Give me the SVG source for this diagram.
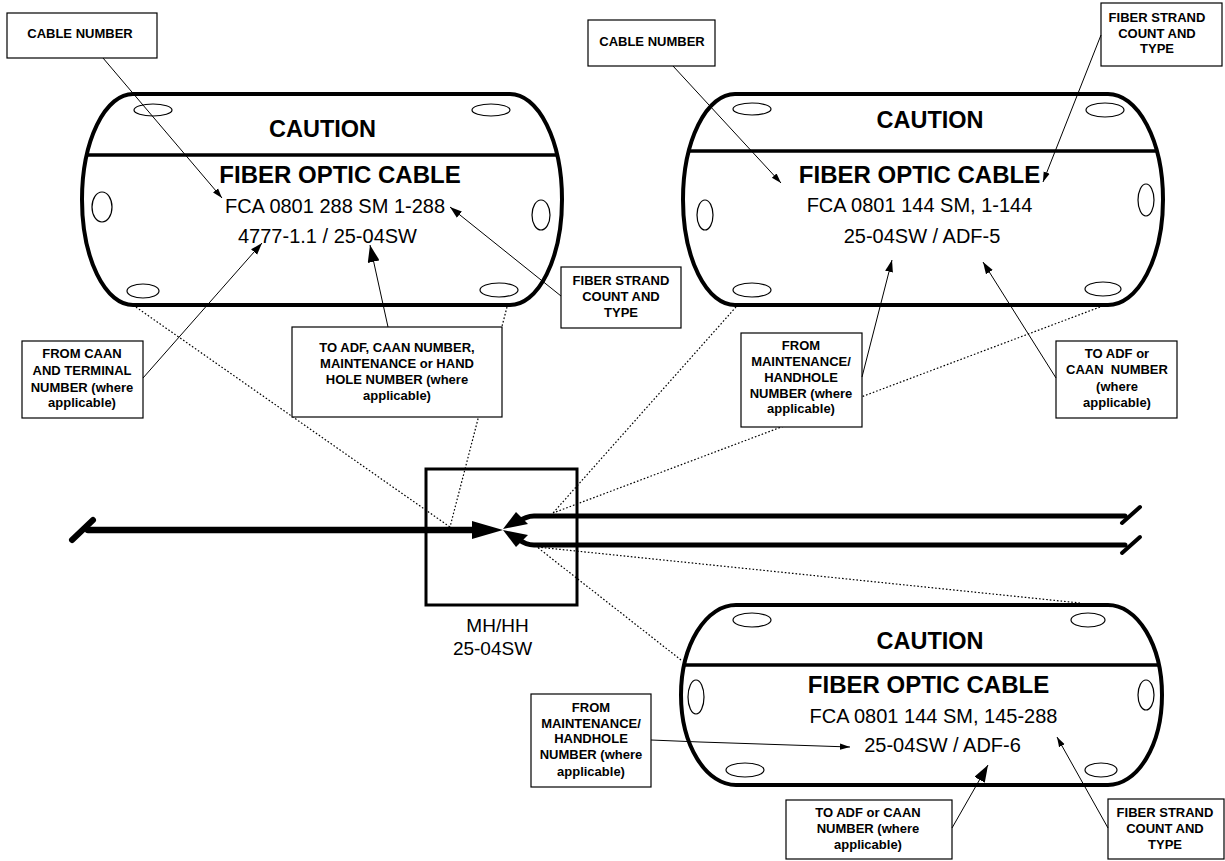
<svg xmlns="http://www.w3.org/2000/svg" width="1225" height="861" viewBox="0 0 1225 861">
<style>
.tag{fill:#fff;stroke:#000;stroke-width:4}
.div{stroke:#000;stroke-width:3.5}
.hole{fill:none;stroke:#000;stroke-width:1.2}
.box{fill:#fff;stroke:#000;stroke-width:1.2}
.lbl{font-family:"Liberation Sans",Arial,sans-serif;font-weight:bold;font-size:13px;text-anchor:middle;fill:#000}
.cau{font-family:"Liberation Sans",Arial,sans-serif;font-weight:bold;font-size:23.5px;text-anchor:middle;fill:#000}
.foc{font-family:"Liberation Sans",Arial,sans-serif;font-weight:bold;font-size:24px;text-anchor:middle;fill:#000}
.num{font-family:"Liberation Sans",Arial,sans-serif;font-size:20px;text-anchor:middle;fill:#000}
.mh{font-family:"Liberation Sans",Arial,sans-serif;font-size:19px;text-anchor:middle;fill:#000}
.dot{fill:none;stroke:#000;stroke-width:1.2;stroke-dasharray:1.6 2}
.ld{fill:none;stroke:#000;stroke-width:1}
.thick{fill:none;stroke:#000;stroke-linecap:round}
</style>
<defs>
<marker id="aS" markerUnits="userSpaceOnUse" markerWidth="10" markerHeight="8" refX="10" refY="4" orient="auto" viewBox="0 0 10 8"><path d="M0,0.8 L10,4 L0,7.2 Z" fill="#000"/></marker>
<marker id="aM" markerUnits="userSpaceOnUse" markerWidth="12" markerHeight="9" refX="12" refY="4.5" orient="auto" viewBox="0 0 12 9"><path d="M0,0.5 L12,4.5 L0,8.5 Z" fill="#000"/></marker>
<marker id="aL" markerUnits="userSpaceOnUse" markerWidth="17" markerHeight="12" refX="17" refY="6" orient="auto" viewBox="0 0 17 12"><path d="M0,0 L17,6 L0,12 Z" fill="#000"/></marker>
</defs>
<rect width="1225" height="861" fill="#fff"/>

<g id="dotted-connectors">
<path class="dot" d="M133,305 L450,527"/>
<path class="dot" d="M507,307 L450,527"/>
<path class="dot" d="M736,307 L553,513"/>
<path class="dot" d="M1100,307 L553,513"/>
<path class="dot" d="M1080,603 L537,547"/>
<path class="dot" d="M681,660 L537,547"/>
</g>

<g id="mh-box">
<rect x="426" y="469" width="151" height="136" fill="none" stroke="#000" stroke-width="3"/>
<text class="mh" x="497.5" y="632">MH/HH</text>
<text class="mh" x="492.5" y="655">25-04SW</text>
</g>

<g id="cable-lines">
<line class="thick" x1="88" y1="530" x2="475" y2="530" stroke-width="6.5" stroke-linecap="butt"/>
<line class="thick" x1="72" y1="540" x2="93" y2="520" stroke-width="6"/>
<polygon points="472,521 503,530 472,539" fill="#000"/>
<path class="thick" d="M1125,516 H534 Q526,516 518,522" stroke-width="5" stroke-linecap="butt"/>
<path class="thick" d="M1125,545 H534 Q526,545 518,539" stroke-width="5" stroke-linecap="butt"/>
<polygon points="503,529 516,512 528,524" fill="#000"/>
<polygon points="503,530 516,547 528,535" fill="#000"/>
<line class="thick" x1="1122" y1="523" x2="1140" y2="507" stroke-width="4"/>
<line class="thick" x1="1122" y1="553" x2="1140" y2="537" stroke-width="4"/>
</g>

<g id="tag1">
<path class="tag" d="M133,94 H510 A52,105.5 0 0 1 510,305 H133 A51,105.5 0 0 1 133,94 Z"/>
<line class="div" x1="87" y1="155" x2="557" y2="155"/>
<ellipse class="hole" cx="153" cy="110" rx="19" ry="6"/>
<ellipse class="hole" cx="491" cy="110" rx="19" ry="6"/>
<ellipse class="hole" cx="102" cy="207" rx="10" ry="15"/>
<ellipse class="hole" cx="541" cy="215" rx="9" ry="15"/>
<ellipse class="hole" cx="143" cy="291" rx="16" ry="7"/>
<ellipse class="hole" cx="499" cy="290" rx="19" ry="7"/>
<text class="cau" x="322.5" y="137">CAUTION</text>
<text class="foc" x="340" y="183">FIBER OPTIC CABLE</text>
<text class="num" x="335" y="213">FCA 0801 288 SM 1-288</text>
<text class="num" x="327.5" y="243">4777-1.1 / 25-04SW</text>
</g>

<g id="tag2">
<path class="tag" d="M735,94 H1108 A55,105.5 0 0 1 1108,305 H735 A52,105.5 0 0 1 735,94 Z"/>
<line class="div" x1="689" y1="151" x2="1157" y2="151"/>
<ellipse class="hole" cx="752" cy="109" rx="19" ry="6"/>
<ellipse class="hole" cx="1105" cy="110" rx="19" ry="7"/>
<ellipse class="hole" cx="705" cy="215" rx="8" ry="15"/>
<ellipse class="hole" cx="1146" cy="200" rx="8" ry="16"/>
<ellipse class="hole" cx="752" cy="290" rx="19" ry="7"/>
<ellipse class="hole" cx="1103" cy="289" rx="18" ry="7"/>
<text class="cau" x="930" y="128">CAUTION</text>
<text class="foc" x="919.5" y="183">FIBER OPTIC CABLE</text>
<text class="num" x="919.5" y="212">FCA 0801 144 SM, 1-144</text>
<text class="num" x="922" y="243">25-04SW / ADF-5</text>
</g>

<g id="tag3">
<path class="tag" d="M736,605 H1108 A54,90 0 0 1 1108,785 H736 A55,90 0 0 1 736,605 Z"/>
<line class="div" x1="684" y1="665" x2="1159" y2="665"/>
<ellipse class="hole" cx="752" cy="620" rx="19" ry="7"/>
<ellipse class="hole" cx="1088" cy="620" rx="17" ry="7"/>
<ellipse class="hole" cx="696" cy="697" rx="8" ry="17"/>
<ellipse class="hole" cx="1146" cy="695" rx="8" ry="15"/>
<ellipse class="hole" cx="745" cy="770" rx="19" ry="7"/>
<ellipse class="hole" cx="1101" cy="770" rx="16" ry="7"/>
<text class="cau" x="930" y="649">CAUTION</text>
<text class="foc" x="928.5" y="693">FIBER OPTIC CABLE</text>
<text class="num" x="933.5" y="723">FCA 0801 144 SM, 145-288</text>
<text class="num" x="942.5" y="752">25-04SW / ADF-6</text>
</g>

<g id="lbl-cable-number-1">
<rect class="box" x="7" y="13" width="150" height="45"/>
<text class="lbl" x="80" y="38">CABLE NUMBER</text>
</g>
<g id="lbl-from-caan">
<rect class="box" x="22" y="341" width="121" height="77"/>
<text class="lbl" x="82" y="358">FROM CAAN</text>
<text class="lbl" x="82" y="375">AND TERMINAL</text>
<text class="lbl" x="82" y="392">NUMBER (where</text>
<text class="lbl" x="82" y="407">applicable)</text>
</g>
<g id="lbl-to-adf-1">
<rect class="box" x="292" y="327" width="210" height="90"/>
<text class="lbl" x="397" y="352">TO ADF, CAAN NUMBER,</text>
<text class="lbl" x="397" y="368">MAINTENANCE or HAND</text>
<text class="lbl" x="397" y="384">HOLE NUMBER (where</text>
<text class="lbl" x="397" y="400">applicable)</text>
</g>
<g id="lbl-fiber-strand-1">
<rect class="box" x="561" y="267" width="120" height="61"/>
<text class="lbl" x="621" y="285">FIBER STRAND</text>
<text class="lbl" x="621" y="301">COUNT AND</text>
<text class="lbl" x="621" y="317">TYPE</text>
</g>
<g id="lbl-cable-number-2">
<rect class="box" x="588" y="20" width="127" height="46"/>
<text class="lbl" x="652" y="46">CABLE NUMBER</text>
</g>
<g id="lbl-fiber-strand-2">
<rect class="box" x="1101" y="3" width="121" height="63"/>
<text class="lbl" x="1157" y="22">FIBER STRAND</text>
<text class="lbl" x="1157" y="38">COUNT AND</text>
<text class="lbl" x="1157" y="53">TYPE</text>
</g>
<g id="lbl-from-maint-2">
<rect class="box" x="741" y="333" width="121" height="94"/>
<text class="lbl" x="801" y="350">FROM</text>
<text class="lbl" x="801" y="366">MAINTENANCE/</text>
<text class="lbl" x="801" y="382">HANDHOLE</text>
<text class="lbl" x="801" y="398">NUMBER (where</text>
<text class="lbl" x="801" y="413">applicable)</text>
</g>
<g id="lbl-to-adf-2">
<rect class="box" x="1056" y="341" width="121" height="77"/>
<text class="lbl" x="1117" y="358">TO ADF or</text>
<text class="lbl" x="1117" y="374" xml:space="preserve">CAAN  NUMBER</text>
<text class="lbl" x="1117" y="391">(where</text>
<text class="lbl" x="1117" y="407">applicable)</text>
</g>
<g id="lbl-from-maint-3">
<rect class="box" x="531" y="694" width="120" height="93"/>
<text class="lbl" x="591" y="712">FROM</text>
<text class="lbl" x="591" y="728">MAINTENANCE/</text>
<text class="lbl" x="591" y="743">HANDHOLE</text>
<text class="lbl" x="591" y="759">NUMBER (where</text>
<text class="lbl" x="591" y="776">applicable)</text>
</g>
<g id="lbl-to-adf-3">
<rect class="box" x="786" y="800" width="166" height="59"/>
<text class="lbl" x="868" y="817">TO ADF or CAAN</text>
<text class="lbl" x="868" y="833">NUMBER (where</text>
<text class="lbl" x="868" y="849">applicable)</text>
</g>
<g id="lbl-fiber-strand-3">
<rect class="box" x="1108" y="799" width="116" height="60"/>
<text class="lbl" x="1165" y="817">FIBER STRAND</text>
<text class="lbl" x="1165" y="833">COUNT AND</text>
<text class="lbl" x="1165" y="849">TYPE</text>
</g>

<g id="connectors">
<path class="ld" d="M103,58 L222,198" marker-end="url(#aS)"/>
<path class="ld" d="M143,378 L262,243" marker-end="url(#aM)"/>
<path class="ld" d="M388,327 L370,245" marker-end="url(#aL)"/>
<path class="ld" d="M561,296 L450,207" marker-end="url(#aM)"/>
<path class="ld" d="M673,66 L781,183" marker-end="url(#aS)"/>
<path class="ld" d="M1101,35 L1043,182" marker-end="url(#aS)"/>
<path class="ld" d="M862,377 L892,260" marker-end="url(#aM)"/>
<path class="ld" d="M1056,378 L983,262" marker-end="url(#aM)"/>
<path class="ld" d="M651,740 L700,742 L850,747" marker-end="url(#aS)"/>
<path class="ld" d="M952,828 L988,765" marker-end="url(#aL)"/>
<path class="ld" d="M1108,828 L1057,737" marker-end="url(#aS)"/>
</g>
</svg>
